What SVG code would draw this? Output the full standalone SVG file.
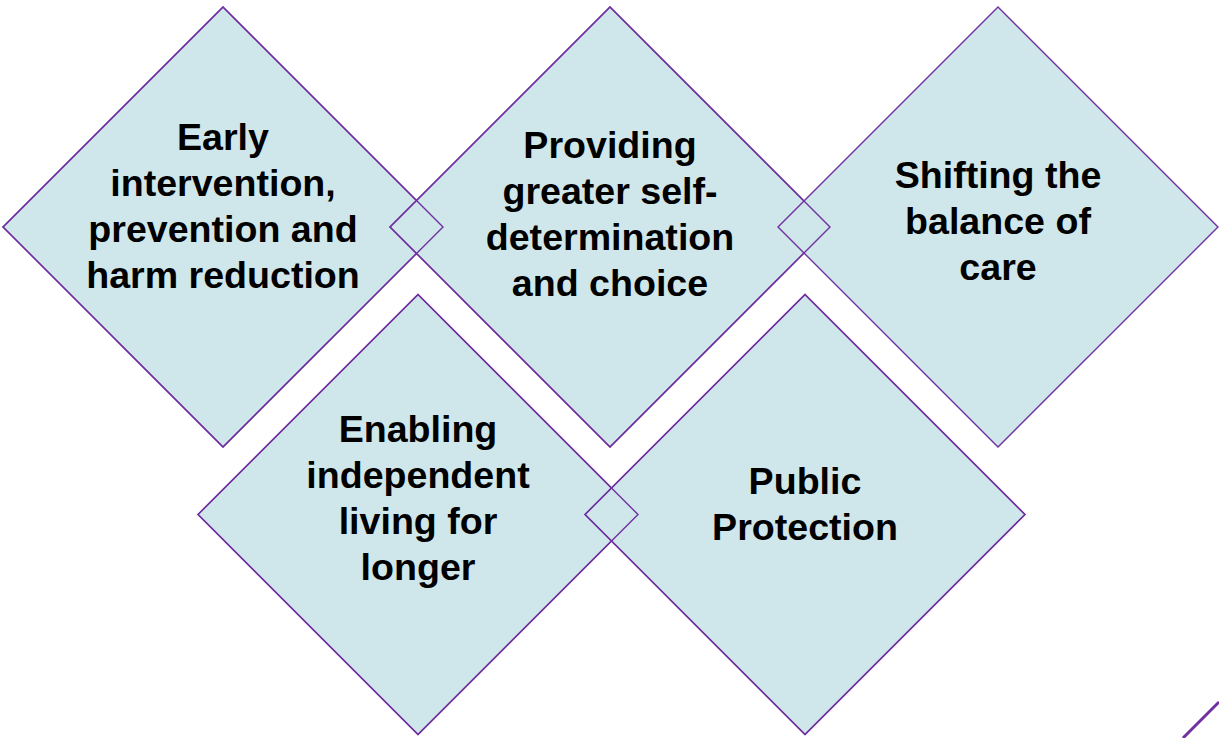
<svg xmlns="http://www.w3.org/2000/svg" width="1219" height="738" viewBox="0 0 1219 738">
<style>
.shape{fill:#CFE7EB;stroke:#7030A0;stroke-width:1.4}
.outline{fill:none;stroke:#7030A0;stroke-width:1.4}
.lbl{font-family:"Liberation Sans",Arial,sans-serif;font-weight:bold;font-size:37.6px;fill:#000;text-anchor:middle}
</style>
<rect width="1219" height="738" fill="#fff"/>
<defs>
<polygon id="dTop" points="0,-220 220,0 0,220 -220,0"/>
<polygon id="dBot" points="0,-220 220,0 0,220 -220,0"/>
</defs>
<g id="node1">
<use href="#dTop" class="shape" transform="translate(223,227)"/>
<text class="lbl"><tspan x="223" y="150.3">Early</tspan><tspan x="223" y="196.2">intervention,</tspan><tspan x="223" y="242.1">prevention and</tspan><tspan x="223" y="288">harm reduction</tspan></text>
</g>
<g id="node2">
<use href="#dTop" class="shape" transform="translate(610,227)"/>
<text class="lbl"><tspan x="610" y="158.3">Providing</tspan><tspan x="610" y="204.1">greater self-</tspan><tspan x="610" y="249.9">determination</tspan><tspan x="610" y="295.7">and choice</tspan></text>
</g>
<g id="node3">
<use href="#dTop" class="shape" transform="translate(998,227)"/>
<text class="lbl"><tspan x="998" y="188">Shifting the</tspan><tspan x="998" y="233.8">balance of</tspan><tspan x="998" y="279.6">care</tspan></text>
</g>
<g id="node4">
<use href="#dBot" class="shape" transform="translate(418,514.5)"/>
<text class="lbl"><tspan x="418" y="442.3">Enabling</tspan><tspan x="418" y="488.1">independent</tspan><tspan x="418" y="533.9">living for</tspan><tspan x="418" y="579.7">longer</tspan></text>
</g>
<g id="node5">
<use href="#dBot" class="shape" transform="translate(805,514.5)"/>
<text class="lbl"><tspan x="805" y="494">Public</tspan><tspan x="805" y="539.7">Protection</tspan></text>
</g>
<g id="connectors">
<use href="#dTop" class="outline" transform="translate(223,227)"/>
<use href="#dTop" class="outline" transform="translate(610,227)"/>
<use href="#dBot" class="outline" transform="translate(418,514.5)"/>
<use href="#dBot" class="outline" transform="translate(805,514.5)"/>
<line x1="1183" y1="738" x2="1219" y2="702" stroke="#7030A0" stroke-width="3"/>
</g>
</svg>
